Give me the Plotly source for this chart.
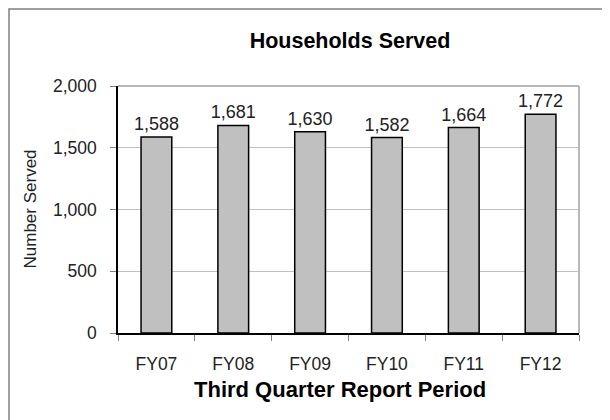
import plotly.graph_objects as go

categories = ["FY07", "FY08", "FY09", "FY10", "FY11", "FY12"]
households = [1588, 1681, 1630, 1582, 1664, 1772]
y_ticks = [0, 500, 1000, 1500, 2000]
y_tick_labels = ["0", "500", "1,000", "1,500", "2,000"]

FONT = "Liberation Sans"
OFF = 8  # browser default body margin
W, H = 610 - OFF, 420 - OFF
L, R, T, B = 118 - OFF, 579 - OFF, 86 - OFF, 333 - OFF  # plot area pixel edges
PW, PH = R - L, B - T

fig = go.Figure()
fig.add_trace(go.Bar(
    x=categories,
    y=households,
    marker=dict(color="#c0c0c0", line=dict(color="#000000", width=1.5)),
    text=[f"{v:,}" for v in households],
    textposition="outside",
    constraintext="none",
    textfont=dict(family=FONT, size=18, color="#222222"),
    cliponaxis=False,
    hoverinfo="skip",
))

fig.update_layout(
    width=W,
    height=H,
    margin=dict(l=L, r=W - R, t=T, b=H - B, autoexpand=False),
    paper_bgcolor="white",
    plot_bgcolor="white",
    bargap=0.6,
    showlegend=False,
    title=dict(
        text="<b>Households Served</b>",
        x=(350 - OFF - L) / PW, xref="paper", xanchor="center",
        y=1 - (40 - OFF) / H, yref="container", yanchor="middle",
        font=dict(family=FONT, size=21.5, color="#000000"),
    ),
    xaxis=dict(
        type="category",
        automargin=False,
        showline=True, linecolor="#000000", linewidth=1.5,
        ticks="outside", tickson="boundaries", ticklen=6, tickcolor="#808080",
        ticklabelstandoff=14,
        tickfont=dict(family=FONT, size=17.5, color="#222222"),
        showgrid=False,
    ),
    yaxis=dict(
        automargin=False,
        range=[0, 2000],
        tickvals=y_ticks, ticktext=y_tick_labels,
        showline=True, linecolor="#000000", linewidth=1.5,
        ticks="outside", ticklen=6, tickcolor="#808080",
        ticklabelstandoff=10,
        tickfont=dict(family=FONT, size=17.5, color="#222222"),
        showgrid=True, gridcolor="#c0c0c0", gridwidth=1,
        zeroline=False,
    ),
)

# axis titles
fig.add_annotation(text="<b>Third Quarter Report Period</b>", xref="paper", yref="paper",
                   x=(339.5 - OFF - L) / PW, y=(B - (389 - OFF)) / PH, showarrow=False,
                   xanchor="center", yanchor="middle",
                   font=dict(family=FONT, size=22, color="#000000"))
fig.add_annotation(text="Number Served", xref="paper", yref="paper",
                   x=(30 - OFF - L) / PW, y=0.5, showarrow=False, textangle=-90,
                   xanchor="center", yanchor="middle",
                   font=dict(family=FONT, size=17, color="#222222"))

# plot area border (gray top/right)
fig.add_shape(type="line", xref="paper", yref="paper", x0=0, x1=1, y0=1, y1=1,
              line=dict(color="#a0a0a0", width=1.5), layer="below")
fig.add_shape(type="line", xref="paper", yref="paper", x0=1, x1=1, y0=0, y1=1,
              line=dict(color="#a0a0a0", width=1.5), layer="below")
# outer chart frame
fig.add_shape(type="rect", xref="paper", yref="paper",
              x0=(9 - OFF - L) / PW, x1=1.3, y0=-0.5, y1=(B - (9 - OFF)) / PH,
              line=dict(color="#808080", width=1.5), fillcolor="rgba(0,0,0,0)")

fig.write_html("out.html")
